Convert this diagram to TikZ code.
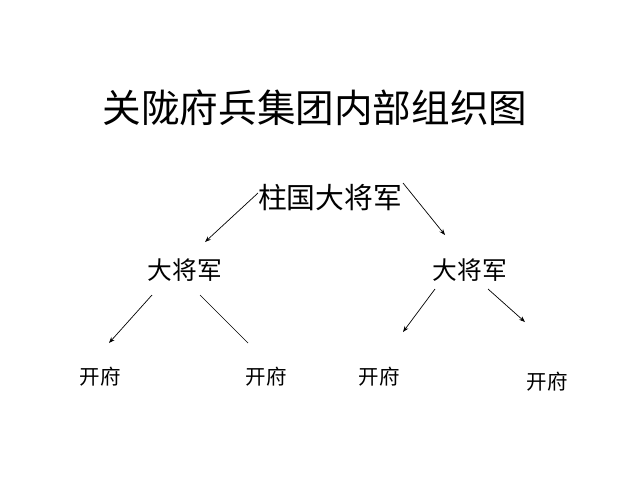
\documentclass[tikz,border=0pt]{standalone}
\usepackage{fontspec}
\setmainfont{Noto Sans CJK SC}
\usetikzlibrary{arrows.meta}
\tikzset{
  lbl/.style={inner sep=0pt, text=black},
  conn/.style={draw=black, line width=0.7pt},
  arr/.style={conn, -{Stealth[length=6pt,width=4.5pt]}}
}
\begin{document}
\begin{tikzpicture}[x=1pt,y=-1pt]
\useasboundingbox[fill=white] (0,0) rectangle (640,480);
\node[lbl, font=\fontsize{38.6}{40}\selectfont] (title) at (315,108) {关陇府兵集团内部组织图};
\node[lbl, font=\fontsize{28.8}{30}\selectfont] (top) at (330,198) {柱国大将军};
\node[lbl, font=\fontsize{24.7}{26}\selectfont] (gl) at (185,270) {大将军};
\node[lbl, font=\fontsize{24.7}{26}\selectfont] (gr) at (470,270) {大将军};
\node[lbl, font=\fontsize{20.5}{22}\selectfont] (k1) at (100,377) {开府};
\node[lbl, font=\fontsize{20.5}{22}\selectfont] (k2) at (266,377) {开府};
\node[lbl, font=\fontsize{20.5}{22}\selectfont] (k3) at (379,377) {开府};
\node[lbl, font=\fontsize{20.5}{22}\selectfont] (k4) at (547,382) {开府};
\coordinate (a1s) at (258,193); \coordinate (a1e) at (205,242);
\coordinate (a2s) at (403,183); \coordinate (a2e) at (445,235);
\coordinate (b1s) at (152,295); \coordinate (b1e) at (109,343);
\coordinate (b2s) at (200,295); \coordinate (b2e) at (248,343);
\coordinate (c1s) at (435,289); \coordinate (c1e) at (403,332);
\coordinate (c2s) at (488,289); \coordinate (c2e) at (525,322);
\draw[arr] (a1s) -- (a1e);
\draw[arr] (a2s) -- (a2e);
\draw[arr] (b1s) -- (b1e);
\draw[conn] (b2s) -- (b2e);
\draw[arr] (c1s) -- (c1e);
\draw[arr] (c2s) -- (c2e);
\end{tikzpicture}
\end{document}
